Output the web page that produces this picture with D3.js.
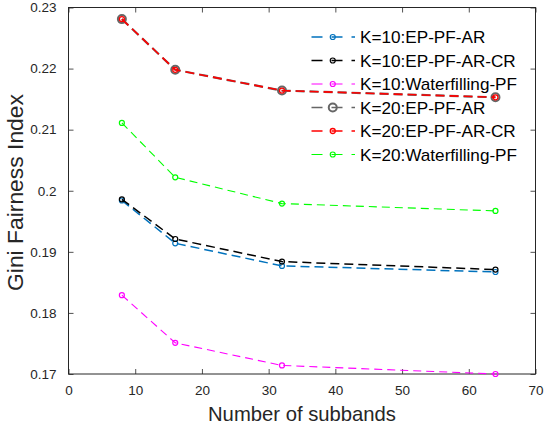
<!DOCTYPE html>
<html>
<head>
<meta charset="utf-8">
<script src="https://cdn.jsdelivr.net/npm/d3@7"></script>
<style>
  html, body { margin: 0; padding: 0; background: #fff; }
  svg { display: block; font-family: "Liberation Sans", Arial, Helvetica, sans-serif; }
</style>
</head>
<body>
<svg id="chart" width="545" height="430"></svg>
<script>
const subbands = [8, 16, 32, 64];
const k10EpPfAr = [0.1984, 0.1914, 0.1877, 0.1867];
const k10EpPfArCr = [0.1986, 0.1921, 0.1884, 0.1871];
const k10WaterfillingPf = [0.1829, 0.1751, 0.1714, 0.1700];
const k20EpPfAr = [0.2281, 0.2198, 0.2164, 0.2153];
const k20EpPfArCr = [0.2281, 0.2198, 0.2164, 0.2153];
const k20WaterfillingPf = [0.2111, 0.2022, 0.1979, 0.1967];
const seriesNames = ["K=10:EP-PF-AR", "K=10:EP-PF-AR-CR", "K=10:Waterfilling-PF",
                     "K=20:EP-PF-AR", "K=20:EP-PF-AR-CR", "K=20:Waterfilling-PF"];
const xTicks = [0, 10, 20, 30, 40, 50, 60, 70];
const yTicks = [0.17, 0.18, 0.19, 0.2, 0.21, 0.22, 0.23];
const xLabel = "Number of subbands";
const yLabel = "Gini Fairness Index";

(function () {
const seriesValues = [k10EpPfAr, k10EpPfArCr, k10WaterfillingPf, k20EpPfAr, k20EpPfArCr, k20WaterfillingPf];
const styles = [
  {color: "#0072BD", width: 1.5, r: 2.5, mw: 1.2, dash: "9,5"},
  {color: "#000000", width: 1.5, r: 2.5, mw: 1.2, dash: "9,5"},
  {color: "#FF00FF", width: 1.1, r: 2.5, mw: 1.2, dash: "8,5"},
  {color: "#666666", width: 2.2, r: 4, mw: 2, dash: "9,5"},
  {color: "#FF0000", width: 1.6, r: 2.5, mw: 1.3, dash: "9,5"},
  {color: "#00FF00", width: 1.1, r: 2.5, mw: 1.2, dash: "8,5"}
];

const svg = d3.select("#chart");
const pLeft = 68.5, pRight = 535.5, pTop = 7.5, pBottom = 374;
const x = d3.scaleLinear().domain([0, 70]).range([pLeft, pRight]);
const y = d3.scaleLinear().domain([0.17, 0.23]).range([pBottom, pTop]);
const axisColor = "#262626";

const tickLen = 5;
const fmtY = d => String(+d.toFixed(2));

const gxb = svg.append("g").attr("transform", `translate(0,${pBottom})`)
  .call(d3.axisBottom(x).tickValues(xTicks).tickSizeInner(-tickLen).tickSizeOuter(0).tickPadding(11));
const gxt = svg.append("g").attr("transform", `translate(0,${pTop})`)
  .call(d3.axisTop(x).tickValues(xTicks).tickSizeInner(-tickLen).tickSizeOuter(0).tickFormat(""));
const gyl = svg.append("g").attr("transform", `translate(${pLeft},0)`)
  .call(d3.axisLeft(y).tickValues(yTicks).tickSizeInner(-tickLen).tickSizeOuter(0).tickPadding(12).tickFormat(fmtY));
const gyr = svg.append("g").attr("transform", `translate(${pRight},0)`)
  .call(d3.axisRight(y).tickValues(yTicks).tickSizeInner(-tickLen).tickSizeOuter(0).tickFormat(""));

[gxb, gxt, gyl, gyr].forEach(g => {
  g.select(".domain").remove();
  g.selectAll(".tick line").attr("stroke", axisColor).attr("stroke-width", 0.8);
  g.selectAll(".tick text").attr("fill", axisColor).style("font-size", "13.5px")
    .style("font-family", "'Liberation Sans', Arial, sans-serif");
});
svg.append("rect").attr("x", pLeft).attr("y", pTop).attr("width", pRight - pLeft).attr("height", pBottom - pTop)
  .attr("fill", "none").attr("stroke", axisColor).attr("stroke-width", 1);

const line = d3.line().x((d, i) => x(subbands[i])).y(d => y(d));
seriesValues.forEach((vals, si) => {
  const st = styles[si];
  const g = svg.append("g");
  g.append("path").datum(vals).attr("d", line).attr("fill", "none")
    .attr("stroke", st.color).attr("stroke-width", st.width).attr("stroke-dasharray", st.dash);
  g.selectAll("circle").data(vals).join("circle")
    .attr("cx", (d, i) => x(subbands[i])).attr("cy", d => y(d)).attr("r", st.r)
    .attr("fill", "none").attr("stroke", st.color).attr("stroke-width", st.mw);
});

// fit a font size so that a text element reaches a target width
function fitFont(sel, base, target) {
  sel.style("font-size", base + "px");
  const w = sel.node().getComputedTextLength();
  if (w > 0) sel.style("font-size", (base * target / w).toFixed(2) + "px");
}

const legX0 = 311.5, legX1 = 355, legTextX = 360, legY0 = 37, legDy = 23.5;
const leg = svg.append("g");
const legTexts = [];
seriesNames.forEach((name, i) => {
  const st = styles[i];
  const yy = legY0 + i * legDy;
  const lg = leg.append("g");
  lg.append("line").attr("x1", legX0).attr("x2", legX1).attr("y1", yy).attr("y2", yy)
    .attr("stroke", st.color).attr("stroke-width", Math.min(st.width, 1.5)).attr("stroke-dasharray", "11,9");
  lg.append("circle").attr("cx", (legX0 + legX1) / 2 - 0.5).attr("cy", yy).attr("r", st.r)
    .attr("fill", "none").attr("stroke", st.color).attr("stroke-width", st.mw);
  legTexts.push(lg.append("text").attr("x", legTextX).attr("y", yy).attr("dy", "0.36em")
    .attr("fill", "#000").style("font-size", "17px").text(name));
});
// reference: "EP-PF-AR-CR" row and "Waterfilling-PF" row both end near x=516.7
{
  const w1 = legTexts[1].node().getComputedTextLength();
  const w2 = legTexts[2].node().getComputedTextLength();
  const avg = (w1 + w2) / 2;
  const fs = avg > 0 ? 17 * 156.5 / avg : 17;
  legTexts.forEach(t => t.style("font-size", fs.toFixed(2) + "px"));
}

const xl = svg.append("text").attr("x", (pLeft + pRight) / 2).attr("y", 420.5).attr("text-anchor", "middle")
  .attr("fill", axisColor).text(xLabel);
fitFont(xl, 20, 188);
const yl = svg.append("text").attr("transform", `translate(23,${(93 + 292) / 2}) rotate(-90)`).attr("text-anchor", "middle")
  .attr("fill", axisColor).text(yLabel);
fitFont(yl, 20, 197);
})();
</script>
</body>
</html>
